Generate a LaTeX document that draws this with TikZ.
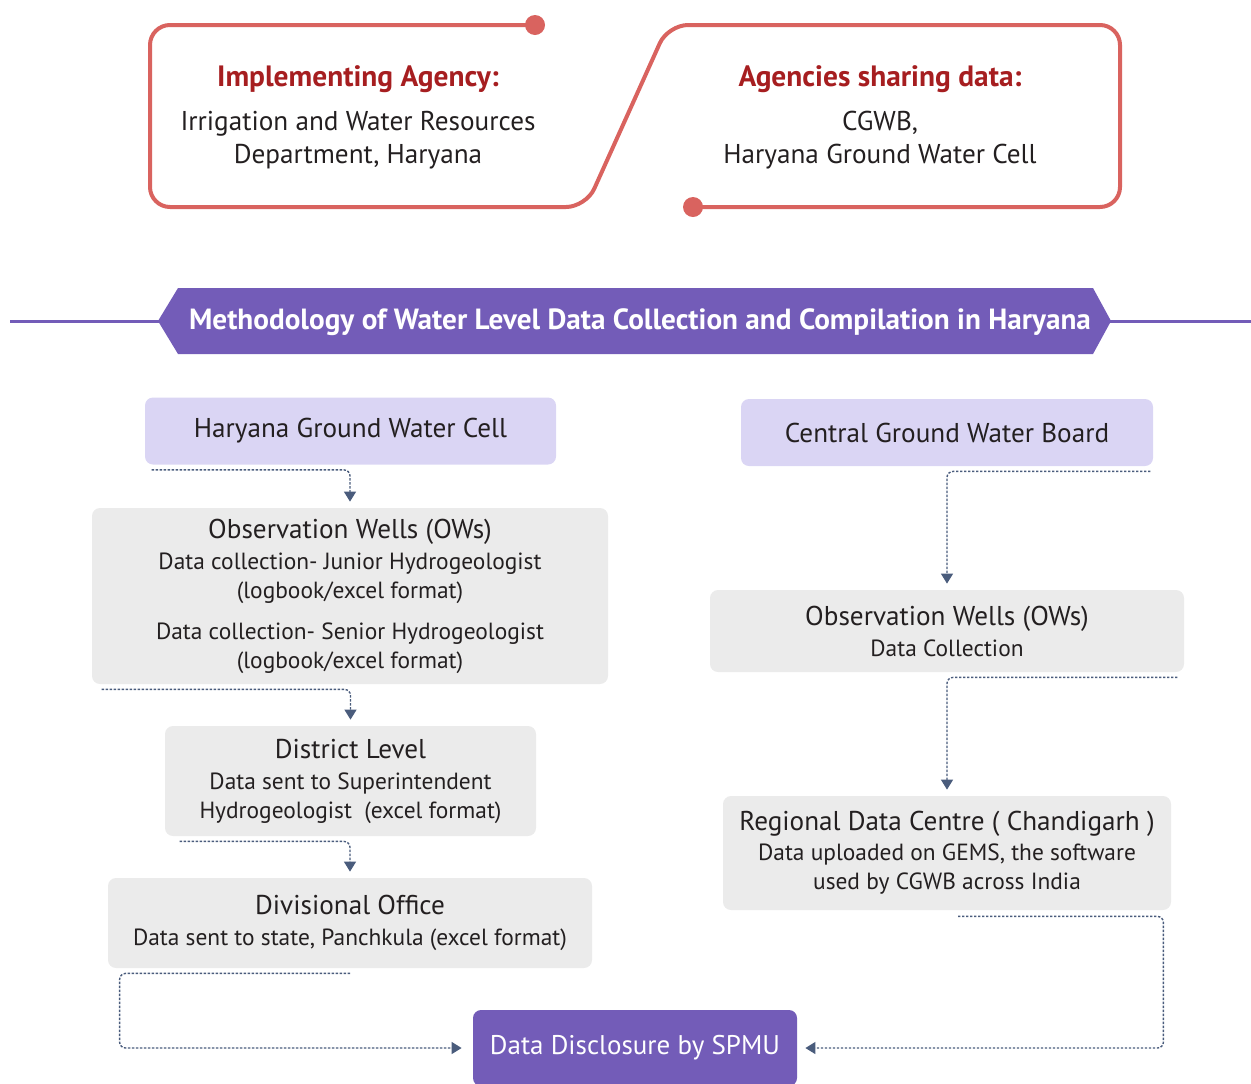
\documentclass[tikz,border=0pt]{standalone}
\usepackage{fontspec}
\setmainfont{PT Sans}
\usetikzlibrary{arrows.meta, calc}

\definecolor{agencyred}{RGB}{217,99,95}
\definecolor{titlered}{RGB}{166,30,32}
\definecolor{methpurple}{RGB}{115,92,184}
\definecolor{lavender}{RGB}{218,213,244}
\definecolor{boxgray}{RGB}{235,235,235}
\definecolor{linkblue}{RGB}{74,92,124}
\definecolor{textdark}{RGB}{35,31,32}

\newcommand{\bigfont}{\fontsize{13.6}{16.5}\selectfont}
\newcommand{\smallfont}{\fontsize{11.7}{14.5}\selectfont}
\newcommand{\headfont}{\fontsize{14.7}{17}\selectfont\bfseries}

\begin{document}
\begin{tikzpicture}[x=0.5pt, y=-0.5pt, >={Triangle[width=6pt,length=5pt]},
    cellbox/.style={fill=lavender, rounded corners=4pt, inner sep=0pt, text=textdark, font=\bigfont},
    stepbox/.style={fill=boxgray, rounded corners=4pt, inner sep=0pt, text=textdark, align=center, font=\smallfont},
    link/.style={->, linkblue, line width=0.7pt, dash pattern=on 1.2pt off 0.8pt, rounded corners=3pt, shorten >=3pt},
    headtext/.style={text=titlered, font=\headfont},
    plaintext/.style={text=textdark, font=\bigfont, align=center}]
    \useasboundingbox (0,0) rectangle (1251,1083);

    % agencies
    \draw[agencyred, line width=2pt, rounded corners=10pt] (535,25) -- (150,25) -- (150,207) -- (586,207) -- (668,25) -- (1120,25) -- (1120,207) -- (693,207);
    \fill[agencyred] (535,25) circle (5pt);
    \fill[agencyred] (693,207) circle (5pt);
    \node[headtext] (implhead) at (358,79) {Implementing Agency:};
    \node[plaintext] (impltext) at (358,140) {Irrigation and Water Resources\\Department, Haryana};
    \node[headtext] (sharehead) at (880,79) {Agencies sharing data:};
    \node[plaintext] (sharetext) at (880,140) {CGWB,\\Haryana Ground Water Cell};

    % banner
    \draw[methpurple, line width=1.5pt] (10,321) -- (1251,321);
    \fill[methpurple] (158,321) -- (178,288) -- (1093,288) -- (1111,321) -- (1093,354) -- (178,354) -- cycle;
    \node[text=white, font=\fontsize{14.6}{17}\selectfont\bfseries] (banner) at (640,322) {Methodology of Water Level Data Collection and Compilation in Haryana};

    % left column
    \node[cellbox, minimum width=205.5pt, minimum height=33.5pt] (hgwc) at (350.5,431) {Haryana Ground Water Cell};
    \node[stepbox, minimum width=258pt, minimum height=88pt] (owl) at (350,596)
        {{\bigfont Observation Wells (OWs)}\\[1pt]
         Data collection- Junior Hydrogeologist\\
         (logbook/excel format)\\[6pt]
         Data collection- Senior Hydrogeologist\\
         (logbook/excel format)};
    \node[stepbox, minimum width=185.5pt, minimum height=55pt] (dist) at (350.5,781)
        {{\bigfont District Level}\\[1pt]
         Data sent to Superintendent\\
         Hydrogeologist\ \ (excel format)};
    \node[stepbox, minimum width=242pt, minimum height=45pt] (divo) at (350,923)
        {{\bigfont Divisional Office}\\[1pt]
         Data sent to state, Panchkula (excel format)};

    % right column
    \node[cellbox, minimum width=206pt, minimum height=33.5pt] (cgwb) at (947,432.5) {Central Ground Water Board};
    \node[stepbox, minimum width=237pt, minimum height=41pt] (owr) at (947,631)
        {{\bigfont Observation Wells (OWs)}\\[1pt]
         Data Collection};
    \node[stepbox, minimum width=224pt, minimum height=57pt] (rdc) at (947,853)
        {{\bigfont Regional Data Centre ( Chandigarh )}\\[0.5pt]
         Data uploaded on GEMS, the software\\
         used by CGWB across India};

    % disclosure
    \node[fill=methpurple, rounded corners=4pt, inner sep=0pt, text=white, font=\fontsize{13.5}{16}\selectfont,
        minimum width=162pt, minimum height=38pt] (disc) at (635,1048) {Data Disclosure by SPMU};

    % connectors
    \draw[link] ($(hgwc.south west)+(7,5)$) -| (owl.north);
    \draw[link] ($(owl.south west)+(10,5)$) -| (dist.north);
    \draw[link] ($(dist.south west)+(15,5)$) -| (divo.north);
    \coordinate (divoturn) at ($(divo.south west)+(12,5)$);
    \draw[link, shorten >=5.5pt] ($(divo.south)+(0,5)$) -- (divoturn) |- (disc.west);
    \draw[link] ($(cgwb.south east)+(-3,5)$) -| (owr.north);
    \draw[link] ($(owr.south east)+(-7,5)$) -| (rdc.north);
    \coordinate (rdcturn) at ($(rdc.south east)+(-8,6)$);
    \draw[link, shorten >=4pt] ($(rdc.south)+(11,6)$) -- (rdcturn) |- (disc.east);
\end{tikzpicture}
\end{document}
